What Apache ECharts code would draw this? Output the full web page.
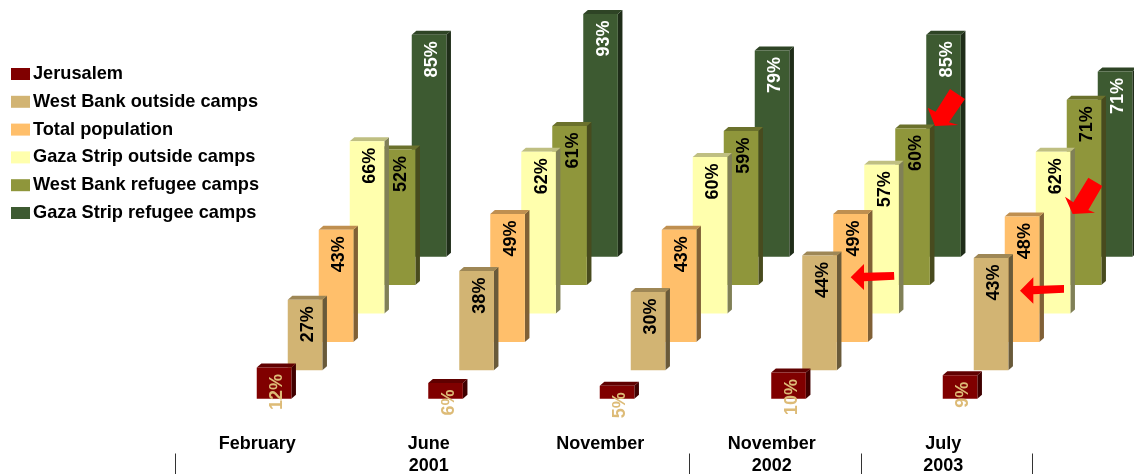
<!DOCTYPE html>
<html><head><meta charset="utf-8">
<style>html,body{margin:0;padding:0;background:#fff}#c{width:1134px;height:474px}</style>
<script src="https://cdn.jsdelivr.net/npm/echarts@6/dist/echarts.min.js"></script>
</head><body><div id="c"></div>
<script>
var categories = ['February', 'June\n2001', 'November', 'November\n2002', 'July\n2003'];
var seriesNames = ['Jerusalem', 'West Bank outside camps', 'Total population', 'Gaza Strip outside camps', 'West Bank refugee camps', 'Gaza Strip refugee camps'];
var jerusalem = [12, 6, 5, 10, 9];
var westBankOutside = [27, 38, 30, 44, 43];
var totalPopulation = [43, 49, 43, 49, 48];
var gazaOutside = [66, 62, 60, 57, 62];
var westBankRefugee = [52, 61, 59, 60, 71];
var gazaRefugee = [85, 93, 79, 85, 71];
var seriesValues = [jerusalem, westBankOutside, totalPopulation, gazaOutside, westBankRefugee, gazaRefugee];
var colors = ['#800000', '#D2B473', '#FFBF6B', '#FFFFAD', '#8F963B', '#3D5A31'];
var labelColors = ['#DDBB77', '#000', '#000', '#000', '#000', '#FFF'];

var STEP_X = 31, STEP_Y = 28.4, BAR_W = 34.6, DX = 4.6, DY = 4, LEFT_OFF = -4;

function shade(hex, f) {
  var n = parseInt(hex.slice(1), 16);
  return 'rgb(' + Math.round((n >> 16) * f) + ',' + Math.round(((n >> 8) & 255) * f) + ',' + Math.round((n & 255) * f) + ')';
}
function makeSeries(si) {
  return {
    name: seriesNames[si], type: 'custom', z: 10 - si, clip: false,
    itemStyle: { color: colors[si] },
    data: seriesValues[si].map(function (v, i) { return [i, v]; }),
    encode: { x: 0, y: 1 },
    renderItem: function (params, api) {
      var top = api.coord([api.value(0), api.value(1)]);
      var base = api.coord([api.value(0), 0]);
      var x = top[0] + LEFT_OFF + si * STEP_X;
      var yT = top[1] - si * STEP_Y, yB = base[1] - si * STEP_Y;
      var c = colors[si];
      return { type: 'group', children: [
        { type: 'polygon', shape: { points: [[x + BAR_W, yT], [x + BAR_W + DX, yT - DY], [x + BAR_W + DX, yB - DY], [x + BAR_W, yB]] }, style: { fill: shade(c, 0.5) } },
        { type: 'polygon', shape: { points: [[x, yT], [x + BAR_W, yT], [x + BAR_W + DX, yT - DY], [x + DX, yT - DY]] }, style: { fill: shade(c, 0.75) } },
        { type: 'rect', shape: { x: x, y: yT, width: BAR_W, height: yB - yT }, style: { fill: c } },
        { type: 'text', x: x + BAR_W / 2 + 3, y: yT + 6.5, rotation: Math.PI / 2,
          style: { text: api.value(1) + '%', fill: labelColors[si], font: 'bold 18px "Liberation Sans", Arial, sans-serif', align: 'right', verticalAlign: 'middle' } }
      ] };
    }
  };
}
function arrow(pts, ox, oy) {
  return { type: 'polygon', z: 100, shape: { points: pts.map(function (p) { return [ox + p[0] / 3, oy + p[1] / 3]; }) }, style: { fill: '#FF0000' } };
}
var chart = echarts.init(document.getElementById('c'), null, { renderer: 'canvas' });
chart.setOption({
  animation: false,
  backgroundColor: '#fff',
  grid: { left: 175, width: 857.5, top: 7.2, height: 446.31, containLabel: false, outerBoundsMode: 'none' },
  legend: {
    orient: 'vertical', left: 6, top: 59, itemWidth: 19, itemHeight: 12, itemGap: 7.8,
    selectedMode: false,
    textStyle: { fontFamily: '"Liberation Sans", Arial, sans-serif', fontWeight: 'bold', fontSize: 18.2, color: '#000', lineHeight: 20, padding: [0, 0, 0, -2] },
    data: seriesNames.map(function (n, i) { return { name: n, icon: 'rect', itemStyle: { color: colors[i] } }; })
  },
  xAxis: {
    type: 'category', data: categories, boundaryGap: true,
    axisLine: { show: false, onZero: false },
    axisTick: { show: true, inside: false, length: 21, lineStyle: { color: '#333', width: 1 },
      interval: function (i) { return i === 0 || i >= 3; } },
    axisLabel: { interval: 0, inside: true, margin: 20.5, verticalAlign: 'top', lineHeight: 22, color: '#000', padding: [0, 7, 0, 0],
      fontFamily: '"Liberation Sans", Arial, sans-serif', fontWeight: 'bold', fontSize: 18 }
  },
  yAxis: { type: 'value', min: -21, max: 150, show: false, splitLine: { show: false } },
  series: seriesNames.map(function (n, i) { return makeSeries(i); }),
  graphic: [
    arrow([[570,57],[615,87],[567,157],[595,165],[525,168],[503,113],[527,125]], 760, 70),
    arrow([[985,323],[1027,348],[985,420],[1005,428],[938,432],[915,380],[940,397]], 760, 70),
    arrow([[482,112],[522,72],[522,98],[612,96],[613,119],[522,124],[522,150]], 690, 240),
    arrow([[990,152],[1030,112],[1030,138],[1122,135],[1122,158],[1030,163],[1030,191]], 690, 240)
  ]
});
</script></body></html>
